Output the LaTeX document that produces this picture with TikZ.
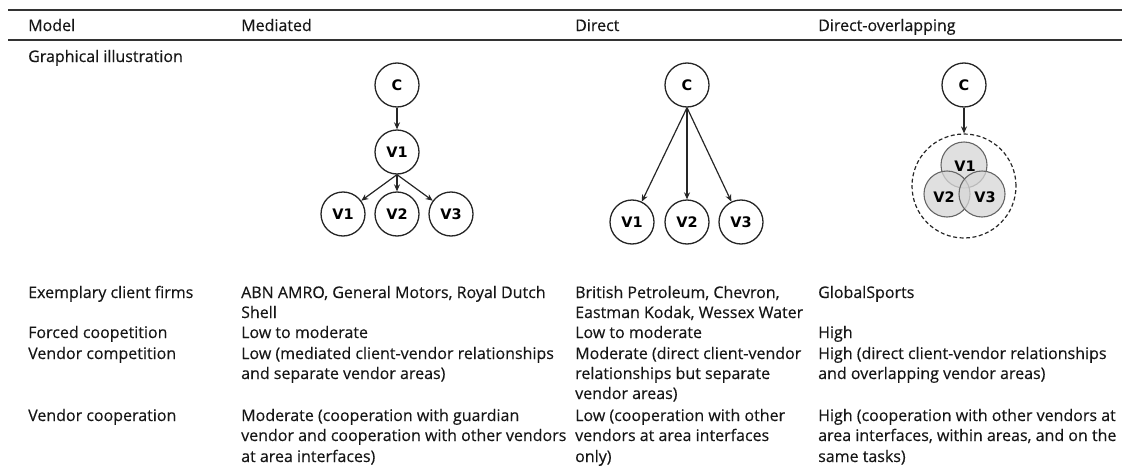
\documentclass[tikz,border=0pt]{standalone}
\usepackage{fontspec}
\setmainfont{Open Sans}
\newfontfamily\cellfont[FakeBold=0.35]{Open Sans}
\newfontfamily\lblfont{DejaVu Sans}
\usetikzlibrary{arrows.meta}
\definecolor{txt}{HTML}{161616}
\definecolor{rulec}{HTML}{333333}
\definecolor{circ}{HTML}{262626}
\definecolor{vfill}{HTML}{D6D6D6}
\definecolor{vline}{HTML}{666666}
\begin{document}
\begin{tikzpicture}[x=1pt,y=-1pt,
  cell/.style={anchor=base west, inner sep=0pt, font=\cellfont\fontsize{16}{20}\selectfont, text=txt},
  rulel/.style={line width=1.3pt, draw=rulec},
  lbl/.style={font=\lblfont\bfseries\fontsize{14.5}{15}\selectfont, text=black},
  vnode/.style={circle, draw=circ, line width=1.3pt, fill=white, minimum size=44pt,
    inner sep=0pt, lbl},
  gnode/.style={circle, draw=vline, line width=1.1pt, fill=vfill, fill opacity=0.75,
    text opacity=1, minimum size=46pt, inner sep=0pt},
  group/.style={circle, draw=circ, dash pattern=on 4pt off 2.5pt, line width=1.2pt,
    minimum size=104pt, inner sep=0pt},
  link/.style={-{Stealth[length=7pt,width=6pt]}, line width=1.2pt, draw=circ},
]
\useasboundingbox (0,0) rectangle (1127,471);

% table rules
\coordinate (tl) at (8,10);   \coordinate (tr) at (1122,10);
\coordinate (hl) at (8,40);   \coordinate (hr) at (1122,40);
\draw[rulel] (tl) -- (tr);
\draw[rulel] (hl) -- (hr);

% header row
\node[cell] (h1) at (28,31)  {Model};
\node[cell] (h2) at (241,31) {Mediated};
\node[cell] (h3) at (575,31) {Direct};
\node[cell] (h4) at (818,31) {Direct-overlapping};

% row labels
\node[cell] (r1) at (28,62)  {Graphical illustration};
\node[cell] (r2) at (28,298) {Exemplary client firms};
\node[cell] (r3) at (28,338) {Forced coopetition};
\node[cell] (r4) at (28,359) {Vendor competition};
\node[cell] (r5) at (28,421) {Vendor cooperation};

% mediated column
\node[cell] (m2a) at (241,298) {ABN AMRO, General Motors, Royal Dutch};
\node[cell] (m2b) at (241,318) {Shell};
\node[cell] (m3)  at (241,338) {Low to moderate};
\node[cell] (m4a) at (241,359) {Low (mediated client-vendor relationships};
\node[cell] (m4b) at (241,379) {and separate vendor areas)};
\node[cell] (m5a) at (241,421) {Moderate (cooperation with guardian};
\node[cell] (m5b) at (241,441) {vendor and cooperation with other vendors};
\node[cell] (m5c) at (241,462) {at area interfaces)};

% direct column
\node[cell] (d2a) at (575,298) {British Petroleum, Chevron,};
\node[cell] (d2b) at (575,318) {Eastman Kodak, Wessex Water};
\node[cell] (d3)  at (575,338) {Low to moderate};
\node[cell] (d4a) at (575,359) {Moderate (direct client-vendor};
\node[cell] (d4b) at (575,379) {relationships but separate};
\node[cell] (d4c) at (575,399) {vendor areas)};
\node[cell] (d5a) at (575,421) {Low (cooperation with other};
\node[cell] (d5b) at (575,441) {vendors at area interfaces};
\node[cell] (d5c) at (575,462) {only)};

% direct-overlapping column
\node[cell] (o2)  at (818,298) {GlobalSports};
\node[cell] (o3)  at (818,338) {High};
\node[cell] (o4a) at (818,359) {High (direct client-vendor relationships};
\node[cell] (o4b) at (818,379) {and overlapping vendor areas)};
\node[cell] (o5a) at (818,421) {High (cooperation with other vendors at};
\node[cell] (o5b) at (818,441) {area interfaces, within areas, and on the};
\node[cell] (o5c) at (818,462) {same tasks)};

% mediated model: client -> guardian vendor -> vendors
\node[vnode] (mC)  at (397,85)  {C};
\node[vnode] (mV)  at (397,152) {V1};
\node[vnode] (mV1) at (343,214) {V1};
\node[vnode] (mV2) at (397,214) {V2};
\node[vnode] (mV3) at (451,214) {V3};
\draw[link] (mC) -- (mV);
\draw[link] (mV.south) -- (mV1);
\draw[link] (mV.south) -- (mV2);
\draw[link] (mV.south) -- (mV3);

% direct model
\node[vnode] (dC)  at (687,85)  {C};
\node[vnode] (dV1) at (632,222) {V1};
\node[vnode] (dV2) at (687,222) {V2};
\node[vnode] (dV3) at (741,222) {V3};
\draw[link] (dC.south) -- (dV1);
\draw[link] (dC.south) -- (dV2);
\draw[link] (dC.south) -- (dV3);

% direct-overlapping model
\node[vnode] (oC) at (964,85) {C};
\node[group] (oG) at (964,186) {};
\node[gnode] (oV1) at (964,165) {};
\node[gnode] (oV2) at (947,194) {};
\node[gnode] (oV3) at (982,194) {};
\node[lbl] (oL1) at (965,166) {V1};
\node[lbl] (oL2) at (944,197) {V2};
\node[lbl] (oL3) at (985,197) {V3};
\draw[link] (oC) -- (oG);
\end{tikzpicture}
\end{document}
